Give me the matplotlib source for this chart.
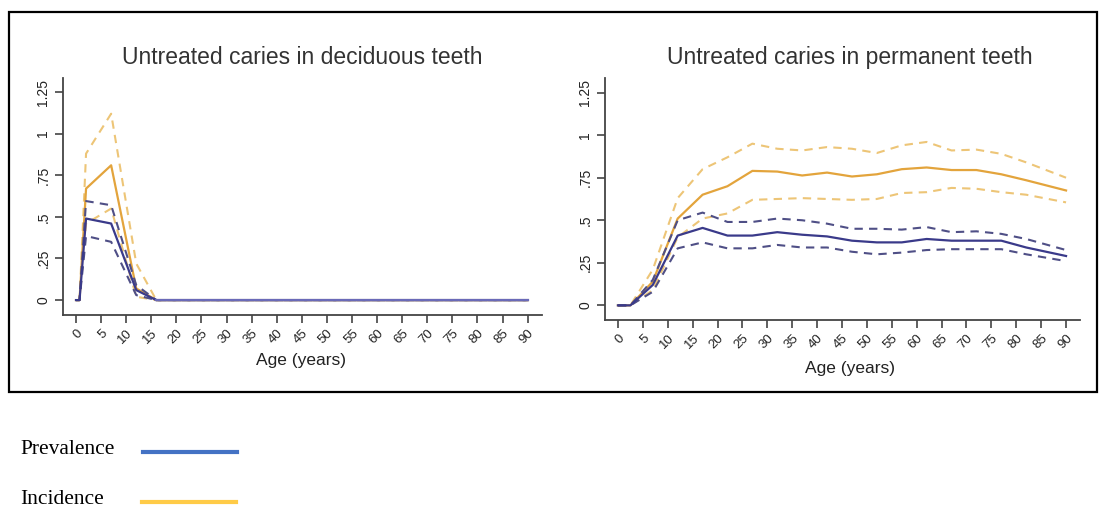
import matplotlib.pyplot as plt
from matplotlib.patches import Rectangle

# deciduous teeth (left panel)
ages_dec = [0, 0.7, 2, 7, 12, 16, 90]
inc_dec = [0, 0, 0.67, 0.81, 0.07, 0, 0]
inc_dec_hi = [0, 0, 0.88, 1.12, 0.22, 0, 0]
inc_dec_lo = [0, 0, 0.46, 0.55, 0.02, 0, 0]
prev_dec = [0, 0, 0.49, 0.46, 0.06, 0, 0]
prev_dec_hi = [0, 0, 0.595, 0.57, 0.09, 0, 0]
prev_dec_lo = [0, 0, 0.385, 0.35, 0.03, 0, 0]

# permanent teeth (right panel)
ages_perm = [0, 2.5, 7, 12, 17, 22, 27, 32, 37, 42, 47, 52, 57, 62, 67, 72, 77, 82, 90]
inc_perm = [0, 0, 0.14, 0.51, 0.65, 0.70, 0.79, 0.786, 0.763, 0.78, 0.757, 0.77,
            0.80, 0.81, 0.795, 0.795, 0.77, 0.735, 0.675]
inc_perm_hi = [0, 0, 0.21, 0.63, 0.80, 0.87, 0.95, 0.92, 0.91, 0.93, 0.92, 0.895,
               0.94, 0.96, 0.91, 0.915, 0.89, 0.84, 0.75]
inc_perm_lo = [0, 0, 0.09, 0.40, 0.51, 0.54, 0.62, 0.625, 0.63, 0.625, 0.62, 0.625,
               0.66, 0.665, 0.69, 0.685, 0.665, 0.65, 0.605]
prev_perm = [0, 0, 0.12, 0.41, 0.455, 0.41, 0.41, 0.43, 0.415, 0.405, 0.38, 0.37,
             0.37, 0.39, 0.38, 0.38, 0.38, 0.34, 0.29]
prev_perm_hi = [0, 0, 0.15, 0.50, 0.545, 0.49, 0.49, 0.51, 0.50, 0.48, 0.45, 0.45,
                0.445, 0.46, 0.43, 0.435, 0.42, 0.39, 0.325]
prev_perm_lo = [0, 0, 0.08, 0.335, 0.37, 0.335, 0.335, 0.355, 0.34, 0.34, 0.315, 0.30,
                0.31, 0.325, 0.33, 0.33, 0.33, 0.30, 0.26]

yticks = [0, 0.25, 0.5, 0.75, 1, 1.25]
ytick_labels = ["0", ".25", ".5", ".75", "1", "1.25"]
xticks = list(range(0, 95, 5))

inc_col = "#E3A43C"
inc_dash = "#EDC577"
prev_col = "#3A3A8A"
prev_dash = "#4F4F86"

plt.rcParams["font.family"] = ["Liberation Sans", "DejaVu Sans"]

fig = plt.figure(figsize=(10.99, 5.09), dpi=100)


def panel(rect, ylo, ages, inc, inc_hi, inc_lo, prev, prev_hi, prev_lo, flat_col=None):
    ax = fig.add_axes(rect)
    ax.plot(ages, inc_hi, color=inc_dash, lw=1.5, ls=(0, (4, 3)))
    ax.plot(ages, inc_lo, color=inc_dash, lw=1.5, ls=(0, (4, 3)))
    ax.plot(ages, inc, color=inc_col, lw=1.6)
    ax.plot(ages, prev_hi, color=prev_dash, lw=1.5, ls=(0, (4, 3)))
    ax.plot(ages, prev_lo, color=prev_dash, lw=1.5, ls=(0, (4, 3)))
    ax.plot(ages, prev, color=prev_col, lw=1.6)
    if flat_col:
        ax.plot([16, 90], [0, 0], color=flat_col, lw=1.6)
    ax.set_xlim(-2.6, 92.8)
    ax.set_ylim(ylo, 1.334)
    for s in ["top", "right"]:
        ax.spines[s].set_visible(False)
    for s in ["left", "bottom"]:
        ax.spines[s].set_color("#444444")
        ax.spines[s].set_linewidth(1.3)
    ax.set_yticks(yticks)
    ax.set_yticklabels(ytick_labels, rotation=90, va="center", fontsize=10)
    ax.set_xticks(xticks)
    ax.set_xticklabels([str(t) for t in xticks], rotation=45, ha="right",
                       rotation_mode="anchor", fontsize=9.5)
    ax.tick_params(direction="out", length=6, width=1.2, color="#444444",
                   labelcolor="#222222", pad=3)
    return ax


panel([0.0573, 0.381, 0.4356, 0.4656], -0.09, ages_dec, inc_dec, inc_dec_hi, inc_dec_lo,
      prev_dec, prev_dec_hi, prev_dec_lo, flat_col="#6A6AB8")
panel([0.5505, 0.3713, 0.4322, 0.4749], -0.086, ages_perm, inc_perm, inc_perm_hi, inc_perm_lo,
      prev_perm, prev_perm_hi, prev_perm_lo)

fig.text(302 / 1099, 1 - 58 / 509, "Untreated caries in deciduous teeth",
         ha="center", va="center", fontsize=16.5, color="#333333")
fig.text(850 / 1099, 1 - 58 / 509, "Untreated caries in permanent teeth",
         ha="center", va="center", fontsize=16.5, color="#333333")
fig.text(301 / 1099, 1 - 360 / 509, "Age (years)", ha="center", va="center",
         fontsize=12.5, color="#222222")
fig.text(850 / 1099, 1 - 368 / 509, "Age (years)", ha="center", va="center",
         fontsize=12.5, color="#222222")

# outer frame
fig.patches.append(Rectangle((9 / 1099, 1 - 392 / 509), (1097 - 9) / 1099, (392 - 12) / 509,
                             transform=fig.transFigure, fill=False, ec="black", lw=1.6))

# legend below
fig.text(20 / 1099, 1 - 450 / 509, "Prevalence", ha="left", va="center",
         fontsize=15.5, family=["Liberation Serif", "DejaVu Serif"])
fig.text(20 / 1099, 1 - 500 / 509, "Incidence", ha="left", va="center",
         fontsize=15.5, family=["Liberation Serif", "DejaVu Serif"])
fig.add_artist(plt.Line2D([143 / 1099, 237 / 1099], [1 - 452 / 509] * 2,
                          color="#4472C4", lw=3, transform=fig.transFigure))
fig.add_artist(plt.Line2D([142 / 1099, 236 / 1099], [1 - 502 / 509] * 2,
                          color="#FFCB47", lw=3, transform=fig.transFigure))

fig.savefig("out.png", dpi=100)
